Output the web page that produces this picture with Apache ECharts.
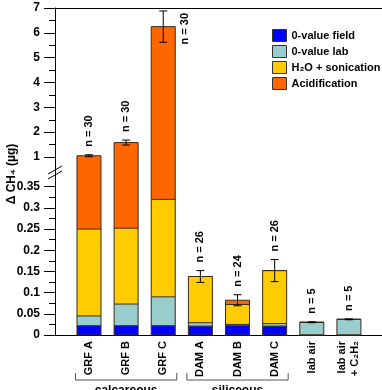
<!DOCTYPE html>
<html>
<head>
<meta charset="utf-8">
<script src="https://cdn.jsdelivr.net/npm/echarts@6/dist/echarts.min.js"></script>
<style>
  html, body { margin: 0; padding: 0; background: #fff; }
  #main { width: 382px; height: 390px; }
</style>
</head>
<body>
<div id="main"></div>
<script>
// categories and stacked parts (ΔCH4 in µg)
var categories = ["GRF A", "GRF B", "GRF C", "DAM A", "DAM B", "DAM C", "lab air", "lab air\n+ C₂H₂"];
var fieldZero = [0.022, 0.022, 0.022, 0.021, 0.022, 0.021, 0, 0];
var labZero = [0.023, 0.051, 0.068, 0.008, 0.003, 0.006, 0.030, 0.037];
var sonication = [0.205, 0.179, 0.230, 0.109, 0.047, 0.125, 0, 0];
var acidification = [0.80, 1.33, 5.93, 0, 0.010, 0, 0, 0];
var errors = [0.04, 0.1, 0.63, 0.014, 0.013, 0.026, 0.001, 0.001];
var nCounts = [30, 30, 30, 26, 24, 26, 5, 5];
var groups = [
  { name: "calcareous", from: 0, to: 2 },
  { name: "siliceous", from: 3, to: 5 }
];
var upperMin = 1, upperMax = 7;
var lowerMax = 0.35;   // last labelled value under the break
var lowerFill = 0.42;  // lower scale runs on through the break gap

var font = "Liberation Sans, Arial, sans-serif";
var names = ["0-value field", "0-value lab", "H₂O + sonication", "Acidification"];
var colors = ["#0000ff", "#99cccc", "#ffcc00", "#ff6600"];
var parts = [fieldZero, labZero, sonication, acidification];

var totals = categories.map(function (c, i) {
  return fieldZero[i] + labZero[i] + sonication[i] + acidification[i];
});

var chart = echarts.init(document.getElementById("main"));

var gridL = 70.4, gridR = 14.5, axisOff = 15.4, barW = 24;

function range(gi) {
  return gi === 0 ? [upperMin, upperMax] : [0, lowerFill];
}

// fills only; outlines are drawn separately so the break seam stays clean
function barSeries(gi) {
  return parts.map(function (arr, k) {
    return {
      name: names[k],
      type: "bar",
      stack: "s" + gi,
      xAxisIndex: gi,
      yAxisIndex: gi,
      barWidth: barW,
      clip: true,
      itemStyle: { color: colors[k], borderWidth: 0 },
      data: arr,
      animation: false
    };
  });
}

function outlineSeries(gi) {
  return {
    type: "custom",
    xAxisIndex: gi,
    yAxisIndex: gi,
    silent: true,
    animation: false,
    z: 3,
    data: categories.map(function (c, i) { return [i, fieldZero[i], labZero[i], sonication[i], acidification[i]]; }),
    renderItem: function (params, api) {
      var r = range(gi), lo = r[0], hi = r[1];
      var i = api.value(0);
      var levels = [0], sum = 0;
      for (var k = 1; k <= 4; k++) { sum += api.value(k); levels.push(sum); }
      if (sum <= lo) return;
      var clamp = function (v) { return Math.min(hi, Math.max(lo, v)); };
      var x = api.coord([i, lo])[0];
      var xl = x - barW / 2, xr = x + barW / 2;
      var yb = api.coord([i, clamp(0)])[1];
      var yt = api.coord([i, clamp(sum)])[1];
      var ls = { stroke: "#3a2a1a", lineWidth: 1 };
      var kids = [
        { type: "line", shape: { x1: xl, y1: yb, x2: xl, y2: yt }, style: ls },
        { type: "line", shape: { x1: xr, y1: yb, x2: xr, y2: yt }, style: ls }
      ];
      levels.forEach(function (v) {
        if (v < lo || v > hi) return;
        var y = api.coord([i, v])[1];
        kids.push({ type: "line", shape: { x1: xl, y1: y, x2: xr, y2: y }, style: ls });
      });
      return { type: "group", children: kids };
    }
  };
}

function errSeries(gi) {
  return {
    type: "custom",
    xAxisIndex: gi,
    yAxisIndex: gi,
    silent: true,
    animation: false,
    clip: false,
    z: 4,
    data: totals.map(function (t, i) { return [i, t, errors[i], nCounts[i]]; }),
    renderItem: function (params, api) {
      var r = range(gi);
      var v = api.value(1), e = api.value(2);
      if (v < r[0] || v > r[1]) return;
      var i = api.value(0);
      var top = api.coord([i, v + e]);
      var bot = api.coord([i, v - e]);
      var x = top[0];
      var txt = "n = " + api.value(3);
      var label;
      if (top[1] - 8 - 30 < params.coordSys.y) {
        label = { type: "text", x: x + 22, y: params.coordSys.y + 5, rotation: Math.PI / 2,
          style: { text: txt, font: "bold 11px " + font, fill: "#000", align: "right", textAlign: "right", verticalAlign: "middle", textVerticalAlign: "middle" } };
      } else {
        label = { type: "text", x: x, y: top[1] - 8, rotation: Math.PI / 2,
          style: { text: txt, font: "bold 11px " + font, fill: "#000", align: "left", textAlign: "left", verticalAlign: "middle", textVerticalAlign: "middle" } };
      }
      var ls = { stroke: "#000", lineWidth: 1 };
      return {
        type: "group",
        children: [
          { type: "line", shape: { x1: x, y1: top[1], x2: x, y2: bot[1] }, style: ls },
          { type: "line", shape: { x1: x - 4, y1: top[1], x2: x + 4, y2: top[1] }, style: ls },
          { type: "line", shape: { x1: x - 4, y1: bot[1], x2: x + 4, y2: bot[1] }, style: ls },
          label
        ]
      };
    }
  };
}

var tickLabel = { color: "#000", fontWeight: "bold", fontSize: 12, fontFamily: font, margin: 15 };
var line = { show: true, lineStyle: { color: "#000", width: 1 } };

chart.setOption({
  backgroundColor: "#fff",
  animation: false,
  legend: {
    orient: "vertical",
    left: 267,
    top: 24,
    itemWidth: 14,
    itemHeight: 12,
    itemGap: 3,
    icon: "rect",
    selectedMode: false,
    itemStyle: { borderColor: "#333", borderWidth: 1 },
    textStyle: { color: "#000", fontWeight: "bold", fontSize: 11, fontFamily: font },
    data: names
  },
  grid: [
    { left: gridL, right: gridR, top: 8, height: 149 },
    { left: gridL, right: gridR, top: 157, bottom: 55 },
    { left: gridL, right: gridR, bottom: 55, height: 178 * lowerMax / lowerFill },
    { left: 55, right: 0, top: 8, bottom: 55 }
  ],
  xAxis: [
    { gridIndex: 0, type: "category", data: categories, show: false },
    { gridIndex: 1, type: "category", data: categories,
      axisLine: { show: false }, axisTick: { show: false },
      axisLabel: { rotate: 90, margin: 6, interval: 0, color: "#000", fontWeight: "bold", fontSize: 11, fontFamily: font, lineHeight: 13 } },
    { gridIndex: 2, type: "category", data: categories, show: false },
    { gridIndex: 3, type: "value", min: 0, max: 1, position: "bottom", axisLine: line,
      axisTick: { show: false }, axisLabel: { show: false }, splitLine: { show: false } },
    { gridIndex: 3, type: "value", min: 0, max: 1, position: "top", axisLine: line,
      axisTick: { show: false }, axisLabel: { show: false }, splitLine: { show: false } }
  ],
  yAxis: [
    { gridIndex: 0, type: "value", min: upperMin, max: upperMax, interval: 1, offset: axisOff,
      axisLine: line,
      axisTick: { show: true, length: 11, lineStyle: { color: "#000" } },
      minorTick: { show: true, splitNumber: 2, length: 6, lineStyle: { color: "#000" } },
      axisLabel: tickLabel, splitLine: { show: false } },
    { gridIndex: 1, type: "value", min: 0, max: lowerFill, offset: axisOff,
      axisLine: line, axisTick: { show: false }, axisLabel: { show: false }, splitLine: { show: false } },
    { gridIndex: 2, type: "value", min: 0, max: lowerMax, interval: 0.05, offset: axisOff,
      axisLine: line,
      axisTick: { show: true, length: 11, lineStyle: { color: "#000" } },
      minorTick: { show: true, splitNumber: 2, length: 6, lineStyle: { color: "#000" } },
      axisLabel: tickLabel, splitLine: { show: false } },
    { gridIndex: 3, type: "value", show: false }
  ],
  series: barSeries(0).concat(barSeries(1), [outlineSeries(0), outlineSeries(1), errSeries(0), errSeries(1)])
});

// axis title, break mark and group brackets
var graphics = [
  { type: "text", x: 12, y: 174, rotation: Math.PI / 2,
    style: { text: "Δ CH₄ (µg)", font: "bold 12px " + font, fill: "#000", align: "center", textAlign: "center", verticalAlign: "middle", textVerticalAlign: "middle" } },
  { type: "polygon", shape: { points: [[50, 173], [60, 167], [60, 172], [50, 178]] }, style: { fill: "#fff" } },
  { type: "line", shape: { x1: 48, y1: 174, x2: 62, y2: 166 }, style: { stroke: "#000", lineWidth: 1 } },
  { type: "line", shape: { x1: 48, y1: 179, x2: 62, y2: 171 }, style: { stroke: "#000", lineWidth: 1 } }
];
groups.forEach(function (g) {
  var x1 = chart.convertToPixel({ xAxisIndex: 1 }, g.from) - 13.5;
  var x2 = chart.convertToPixel({ xAxisIndex: 1 }, g.to) + 13.5;
  graphics.push({ type: "polyline", shape: { points: [[x1, 373], [x1, 380], [x2, 380], [x2, 373]] },
    style: { stroke: "#555", lineWidth: 1, fill: null } });
  graphics.push({ type: "text", x: (x1 + x2) / 2, y: 385,
    style: { text: g.name, font: "bold 12px " + font, fill: "#000", align: "center", textAlign: "center", verticalAlign: "top", textVerticalAlign: "top" } });
});
chart.setOption({ graphic: graphics });
</script>
</body>
</html>
